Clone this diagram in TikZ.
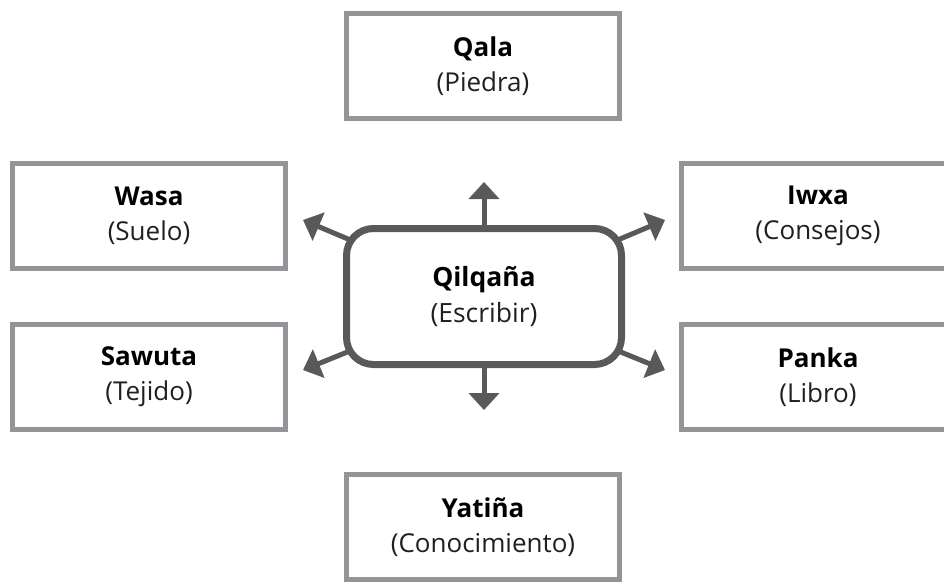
\documentclass[tikz,border=0pt]{standalone}
\usepackage{fontspec}
\setmainfont{Open Sans}
\usetikzlibrary{arrows.meta,backgrounds}
\definecolor{boxgray}{HTML}{939598}
\definecolor{hubgray}{HTML}{58595B}
\definecolor{subtext}{HTML}{231F20}
\begin{document}
\begin{tikzpicture}[x=1pt,y=-1pt,
  outerbox/.style={draw=boxgray,line width=5pt,fill=white,minimum width=273pt,minimum height=105pt,align=center,inner sep=0pt,font=\fontsize{26}{35}\selectfont},
  hubbox/.style={draw=hubgray,line width=7pt,fill=white,rounded corners=27pt,minimum width=275pt,minimum height=136pt,align=center,inner sep=0pt,font=\fontsize{26.5}{36}\selectfont},
  arr/.style={draw=hubgray,line width=5pt,-{Triangle[length=17pt,width=30pt]}}]
\useasboundingbox (0,0) rectangle (944,581);
% central node
\node[hubbox] (c) at (484,296.5) {\textbf{Qilqaña}\\\color{subtext}(Escribir)};
% surrounding nodes
\node[outerbox] (qala)   at (483,66)   {\textbf{Qala}\\\color{subtext}(Piedra)};
\node[outerbox] (wasa)   at (149,216)  {\textbf{Wasa}\\\color{subtext}(Suelo)};
\node[outerbox] (iwxa)   at (818,216)  {\textbf{Iwxa}\\\color{subtext}(Consejos)};
\node[outerbox] (sawuta) at (149,377)  {\textbf{Sawuta}\\\color{subtext}(Tejido)};
\node[outerbox] (panka)  at (818,377)  {\textbf{Panka}\\\color{subtext}(Libro)};
\node[outerbox] (yatina) at (483,527)  {\textbf{Yatiña}\\\color{subtext}(Conocimiento)};
% arrow tips
\coordinate (tU)  at (484,182);
\coordinate (tD)  at (484,410);
\coordinate (tUL) at (303,220);
\coordinate (tUR) at (665,220);
\coordinate (tLL) at (303,370);
\coordinate (tLR) at (665,370);
\begin{scope}[on background layer]
  \fill[white] (0,0) rectangle (944,581);
  \draw[arr] (c.center) -- (tU);
  \draw[arr] (c.center) -- (tD);
  \draw[arr] (c.center) -- (tUL);
  \draw[arr] (c.center) -- (tUR);
  \draw[arr] (c.center) -- (tLL);
  \draw[arr] (c.center) -- (tLR);
\end{scope}
\end{tikzpicture}
\end{document}
